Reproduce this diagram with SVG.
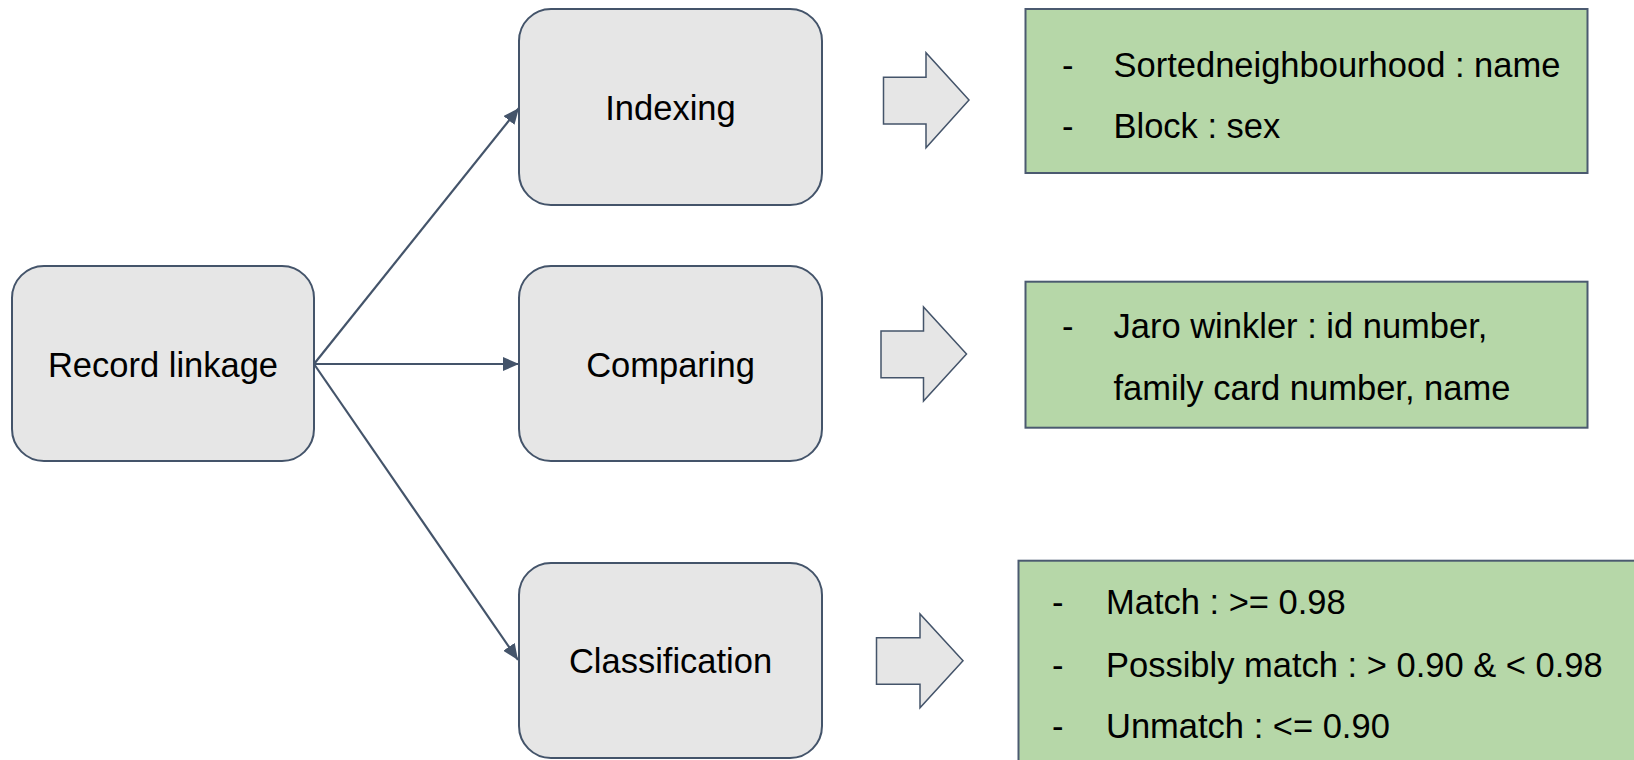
<svg xmlns="http://www.w3.org/2000/svg" width="1634" height="760" viewBox="0 0 1634 760">
<style>
.node{fill:#E6E6E6;stroke:#44546A;stroke-width:2}
.green{fill:#B6D7A8;stroke:#4B5A70;stroke-width:2}
.blk{fill:#E6E6E6;stroke:#44546A;stroke-width:1.5}
.lbl{font-family:"Liberation Sans",Arial,sans-serif;font-size:34.5px;fill:#000}
.mid{text-anchor:middle}
.conn{stroke:#44546A;stroke-width:2.2;fill:none}
</style>
<defs>
<marker id="ah" markerUnits="userSpaceOnUse" markerWidth="17" markerHeight="14" refX="16" refY="7" orient="auto">
<path d="M0,0 L16,7 L0,14 Z" fill="#44546A"/>
</marker>
</defs>
<rect width="1634" height="760" fill="#fff"/>
<g id="connectors">
<line class="conn" x1="314" y1="364" x2="519" y2="108" marker-end="url(#ah)"/>
<line class="conn" x1="314" y1="364" x2="519" y2="364" marker-end="url(#ah)"/>
<line class="conn" x1="314" y1="364" x2="518" y2="660" marker-end="url(#ah)"/>
</g>
<g id="record-linkage">
<rect class="node" x="12" y="266" width="302" height="195" rx="32" ry="32"/>
<text class="lbl mid" x="163" y="377">Record linkage</text>
</g>
<g id="indexing">
<rect class="node" x="519" y="9" width="303" height="196" rx="32" ry="32"/>
<text class="lbl mid" x="670.5" y="120">Indexing</text>
</g>
<g id="comparing">
<rect class="node" x="519" y="266" width="303" height="195" rx="32" ry="32"/>
<text class="lbl mid" x="670.5" y="377">Comparing</text>
</g>
<g id="classification">
<rect class="node" x="519" y="563" width="303" height="195" rx="32" ry="32"/>
<text class="lbl mid" x="670.5" y="673">Classification</text>
</g>
<g id="arrow-indexing">
<path class="blk" d="M883.5,77.3 H926 V52.7 L969,100 L926,147.7 V124 H883.5 Z"/>
</g>
<g id="arrow-comparing">
<path class="blk" d="M881,331 H923.5 V307 L966.5,354 L923.5,401 V377.7 H881 Z"/>
</g>
<g id="arrow-classification">
<path class="blk" d="M876.5,637.7 H920 V614 L963,660.7 L920,707.7 V684.3 H876.5 Z"/>
</g>
<g id="indexing-detail">
<rect class="green" x="1025.5" y="9" width="562" height="164"/>
<text class="lbl" x="1062" y="77">-</text>
<text class="lbl" x="1113.5" y="77">Sortedneighbourhood : name</text>
<text class="lbl" x="1062" y="138">-</text>
<text class="lbl" x="1113.5" y="138">Block : sex</text>
</g>
<g id="comparing-detail">
<rect class="green" x="1025.5" y="281.7" width="562" height="146"/>
<text class="lbl" x="1062" y="338">-</text>
<text class="lbl" x="1113.5" y="338">Jaro winkler : id number,</text>
<text class="lbl" x="1113.5" y="400">family card number, name</text>
</g>
<g id="classification-detail">
<rect class="green" x="1018.5" y="560.7" width="630" height="220"/>
<text class="lbl" x="1052" y="614">-</text>
<text class="lbl" x="1106" y="614">Match : &gt;= 0.98</text>
<text class="lbl" x="1052" y="677">-</text>
<text class="lbl" x="1106" y="677">Possibly match : &gt; 0.90 &amp; &lt; 0.98</text>
<text class="lbl" x="1052" y="738">-</text>
<text class="lbl" x="1106" y="738">Unmatch : &lt;= 0.90</text>
</g>
</svg>
